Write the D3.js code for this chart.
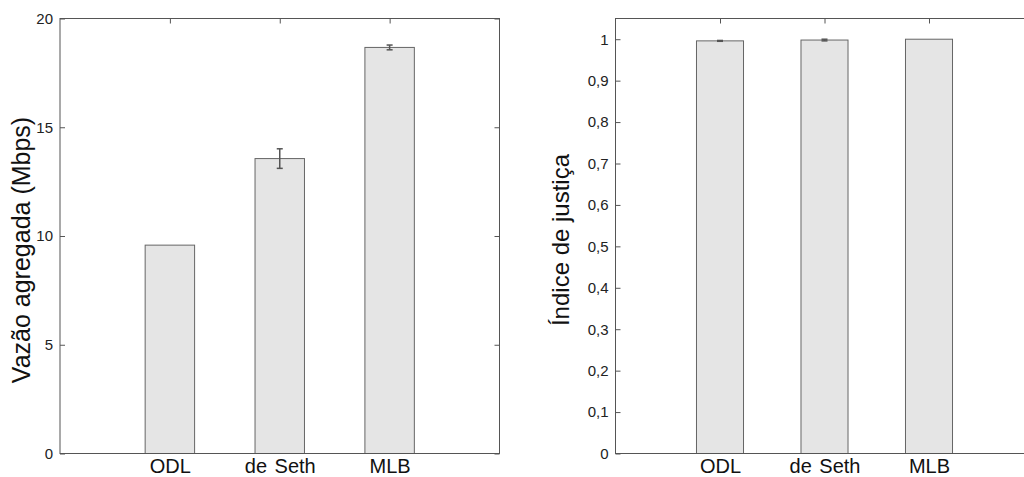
<!DOCTYPE html>
<html>
<head>
<meta charset="utf-8">
<script src="https://d3js.org/d3.v7.min.js"></script>
<style>
body { margin: 0; background: #fff; }
svg { display: block; font-family: "Liberation Sans", Arial, sans-serif; }
</style>
</head>
<body>
<svg width="1024" height="477"></svg>
<script>
// dados
var categorias = ["ODL", "de Seth", "MLB"];
var vazao = [9.58, 13.56, 18.67];
var vazaoErro = [0, 0.45, 0.11];
var justica = [0.996, 0.998, 1.0];
var justicaErro = [0.001, 0.002, 0];
var vazaoTicks = [0, 5, 10, 15, 20];
var justicaTicks = [0, 0.1, 0.2, 0.3, 0.4, 0.5, 0.6, 0.7, 0.8, 0.9, 1];
var justicaLabels = ["0", "0,1", "0,2", "0,3", "0,4", "0,5", "0,6", "0,7", "0,8", "0,9", "1"];

var svg = d3.select("svg");
var spine = "#555";

function painel(opt) {
	var g = svg.append("g");
	var x = d3.scaleLinear().domain([-1, 3]).range([opt.left, opt.right]);
	var y = d3.scaleLinear().domain(opt.ydom).range([453.5, 18.5]);
	var bw = x(0.45) - x(0);

	// barras
	g.selectAll("rect.bar")
		.data(opt.values)
		.enter().append("rect")
		.attr("class", "bar")
		.attr("x", function(d, i) { return x(i) - bw / 2; })
		.attr("y", function(d) { return y(d); })
		.attr("width", bw)
		.attr("height", function(d) { return y(0) - y(d); })
		.attr("fill", "#e5e5e5")
		.attr("stroke", "#666")
		.attr("stroke-width", 1);

	// barras de erro
	var eb = g.selectAll("g.err")
		.data(opt.values.map(function(v, i) { return {v: v, e: opt.errors[i], i: i}; })
			.filter(function(d) { return d.e > 0; }))
		.enter().append("g")
		.attr("stroke", "#555")
		.attr("stroke-width", 1.5);
	eb.append("line")
		.attr("x1", function(d) { return x(d.i); })
		.attr("x2", function(d) { return x(d.i); })
		.attr("y1", function(d) { return y(d.v - d.e); })
		.attr("y2", function(d) { return y(d.v + d.e); });
	eb.append("line")
		.attr("x1", function(d) { return x(d.i) - 3; })
		.attr("x2", function(d) { return x(d.i) + 3; })
		.attr("y1", function(d) { return y(d.v + d.e); })
		.attr("y2", function(d) { return y(d.v + d.e); });
	eb.append("line")
		.attr("x1", function(d) { return x(d.i) - 3; })
		.attr("x2", function(d) { return x(d.i) + 3; })
		.attr("y1", function(d) { return y(d.v - d.e); })
		.attr("y2", function(d) { return y(d.v - d.e); });

	// moldura
	g.append("rect")
		.attr("x", x(-1))
		.attr("y", y.range()[1])
		.attr("width", x(3) - x(-1))
		.attr("height", y.range()[0] - y.range()[1])
		.attr("fill", "none")
		.attr("stroke", spine)
		.attr("stroke-width", 1);

	// eixo y (ticks para dentro)
	var ya = d3.axisLeft(y)
		.tickValues(opt.yticks)
		.tickSize(-5)
		.tickPadding(7)
		.tickFormat(function(d, i) { return opt.ylabels[i]; });
	var yg = g.append("g").attr("transform", "translate(" + x(-1) + ",0)").call(ya);
	yg.select(".domain").remove();
	yg.selectAll(".tick line").attr("stroke", spine);
	yg.selectAll("text").attr("font-size", 15).attr("fill", "#222")
		.attr("font-family", "Liberation Sans, Arial, sans-serif");

	var yr = d3.axisRight(y).tickValues(opt.yticks).tickSize(-5).tickFormat("");
	var yrg = g.append("g").attr("transform", "translate(" + x(3) + ",0)").call(yr);
	yrg.select(".domain").remove();
	yrg.selectAll(".tick line").attr("stroke", spine);

	// eixo x
	var xa = d3.axisBottom(x)
		.tickValues([0, 1, 2])
		.tickSize(0)
		.tickPadding(5)
		.tickFormat(function(d) { return categorias[d]; });
	var xg = g.append("g").attr("transform", "translate(0," + y(0) + ")").call(xa);
	xg.select(".domain").remove();
	xg.selectAll("text").attr("font-size", 20).attr("fill", "#111").attr("dy", "0.71em")
		.attr("word-spacing", "2px")
		.attr("font-family", "Liberation Sans, Arial, sans-serif");

	var xt = d3.axisTop(x).tickValues([0, 1, 2]).tickSize(-5).tickFormat("");
	var xtg = g.append("g").attr("transform", "translate(0," + y.range()[1] + ")").call(xt);
	xtg.select(".domain").remove();
	xtg.selectAll(".tick line").attr("stroke", spine);

	// rótulo
	g.append("text")
		.attr("transform", "translate(" + opt.labelX + "," + opt.labelY + ") rotate(-90)")
		.attr("text-anchor", "middle")
		.attr("font-size", opt.labelSize)
		.attr("fill", "#111")
		.text(opt.label);
}

painel({
	left: 60, right: 499.5,
	ydom: [0, 20],
	values: vazao, errors: vazaoErro,
	yticks: vazaoTicks, ylabels: vazaoTicks.map(String),
	label: "Vazão agregada (Mbps)", labelX: 30, labelY: 250, labelSize: 25
});

painel({
	left: 615.5, right: 1033.5,
	ydom: [0, 1.05],
	values: justica, errors: justicaErro,
	yticks: justicaTicks, ylabels: justicaLabels,
	label: "Índice de justiça", labelX: 569, labelY: 240, labelSize: 24
});
</script>
</body>
</html>
